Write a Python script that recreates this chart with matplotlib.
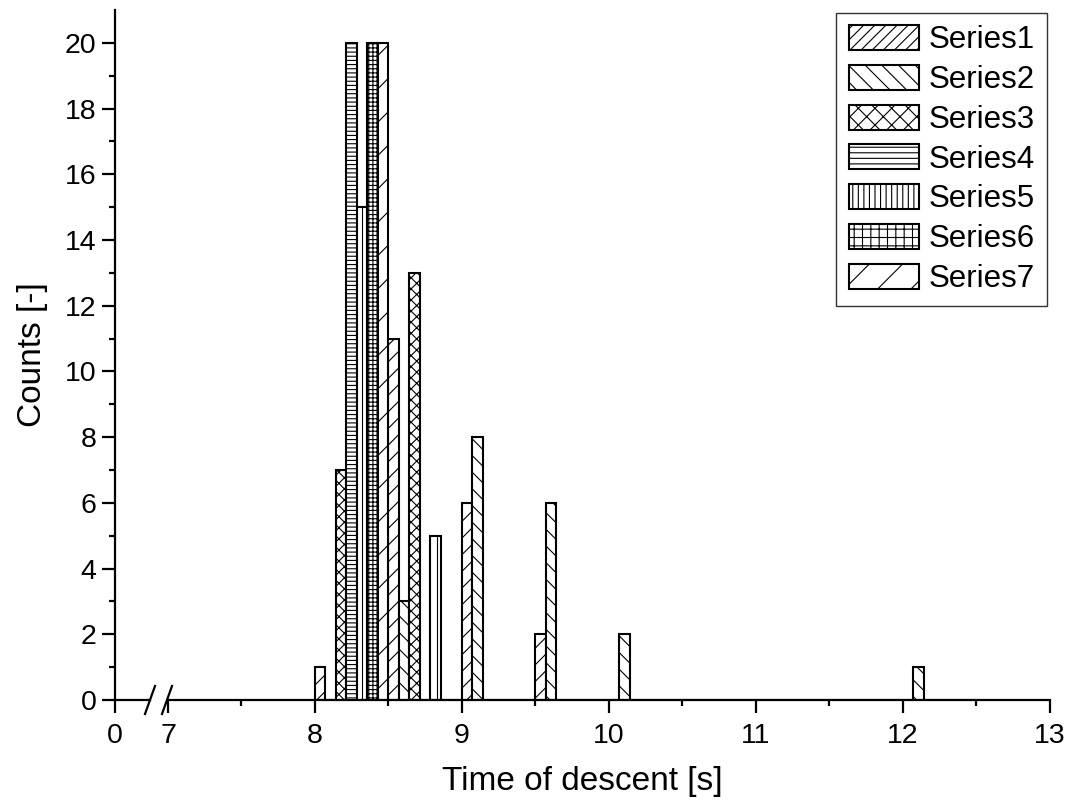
import numpy as np
import matplotlib
matplotlib.use("Agg")
import matplotlib.pyplot as plt
from matplotlib.patches import Patch
from matplotlib.lines import Line2D
from matplotlib.ticker import FixedLocator

plt.rcParams['font.family'] = ['Liberation Sans', 'DejaVu Sans']
plt.rcParams['hatch.linewidth'] = 0.8

# Histogram bins (left edge of each 0.5 s bin)
bins = [8.0, 8.5, 9.0, 9.5, 10.0, 10.5, 11.0, 11.5, 12.0]
series_names = ["Series1", "Series2", "Series3", "Series4",
                "Series5", "Series6", "Series7"]
series1 = [1, 11, 6, 2, 0, 0, 0, 0, 0]
series2 = [0, 3, 8, 6, 2, 0, 0, 0, 1]
series3 = [7, 13, 0, 0, 0, 0, 0, 0, 0]
series4 = [20, 0, 0, 0, 0, 0, 0, 0, 0]
series5 = [15, 5, 0, 0, 0, 0, 0, 0, 0]
series6 = [20, 0, 0, 0, 0, 0, 0, 0, 0]
series7 = [20, 0, 0, 0, 0, 0, 0, 0, 0]
all_series = [series1, series2, series3, series4, series5, series6, series7]

x_major = [0, 7, 8, 9, 10, 11, 12, 13]
x_minor = [7.5, 8.5, 9.5, 10.5, 11.5, 12.5]
y_major = list(range(0, 21, 2))
y_minor = list(range(1, 21, 2))

bar_hatches = ['//', '\\\\', 'xxx', '----', '||', '++++', '/']
legend_hatches = ['///', '\\\\', 'xx', '---', '|||', '++', '/']

# Piecewise scale: 0..7 squeezed into a short stub before the break
c = (53.0 / 147.0) / 7.0

def fwd(x):
    x = np.asarray(x, dtype=float)
    return np.where(x >= 7, x, 7 - (7 - x) * c)

def inv(y):
    y = np.asarray(y, dtype=float)
    return np.where(y >= 7, y, 7 - (7 - y) / c)

fig = plt.figure(figsize=(10.7, 8.07), dpi=100)
W, H = 1070.0, 807.0
ax = fig.add_axes([115 / W, 107 / H, 935 / W, 690 / H])
ax.set_xscale('function', functions=(fwd, inv))
ax.set_xlim(0, 13)
ax.set_ylim(0, 21)

n = len(all_series)
w = 0.5 / n
for k, (vals, hatch) in enumerate(zip(all_series, bar_hatches)):
    xs = [b + k * w for b in bins]
    ax.bar(xs, vals, width=w, align='edge', facecolor='white',
           edgecolor='black', linewidth=1.5, hatch=hatch, zorder=2)

# Axes styling
for s in ['top', 'right', 'bottom']:
    ax.spines[s].set_visible(False)
ax.spines['left'].set_linewidth(1.6)

ax.xaxis.set_major_locator(FixedLocator(x_major))
ax.xaxis.set_minor_locator(FixedLocator(x_minor))
ax.set_xticklabels([str(v) for v in x_major])
ax.yaxis.set_major_locator(FixedLocator(y_major))
ax.yaxis.set_minor_locator(FixedLocator(y_minor))
ax.set_yticklabels([str(v) for v in y_major])

ax.tick_params(axis='both', which='major', direction='out', length=9.5,
               width=1.6, labelsize=20.5, color='black')
ax.tick_params(axis='both', which='minor', direction='out', length=4.5,
               width=1.6)
ax.tick_params(axis='x', which='major', pad=7)
ax.tick_params(axis='y', which='major', pad=4)

# Bottom axis line with a break between 0 and 7
gap_a = (150 - 115) / 935.0
gap_b = (168 - 115) / 935.0
ax.add_line(Line2D([0, gap_a], [0, 0], transform=ax.transAxes, color='black',
                   linewidth=1.6, clip_on=False, zorder=3))
ax.add_line(Line2D([gap_b, 1], [0, 0], transform=ax.transAxes, color='black',
                   linewidth=1.6, clip_on=False, zorder=3))
dx = 5.0 / 935.0
dy = 14.0 / 690.0
for cx in [(150 - 115) / 935.0, (167 - 115) / 935.0]:
    ax.add_line(Line2D([cx - dx, cx + dx], [-dy, dy], transform=ax.transAxes,
                       color='black', linewidth=1.6, clip_on=False, zorder=3))

ax.set_xlabel('Time of descent [s]', fontsize=24, labelpad=12)
ax.set_ylabel('Counts [-]', fontsize=24, labelpad=12)

handles = [Patch(facecolor='white', edgecolor='black', linewidth=1.5,
                 hatch=h, label=name)
           for h, name in zip(legend_hatches, series_names)]
leg = ax.legend(handles=handles, loc='upper right',
                bbox_to_anchor=(1047 / W, 1 - 12.5 / H),
                bbox_transform=fig.transFigure, fontsize=22.5,
                frameon=True, fancybox=False, borderaxespad=0,
                handlelength=2.25, handleheight=0.86, handletextpad=0.3,
                labelspacing=0.3, borderpad=0.4)
leg.get_frame().set_edgecolor('black')
leg.get_frame().set_linewidth(1.0)

fig.savefig('out.png', dpi=100)
